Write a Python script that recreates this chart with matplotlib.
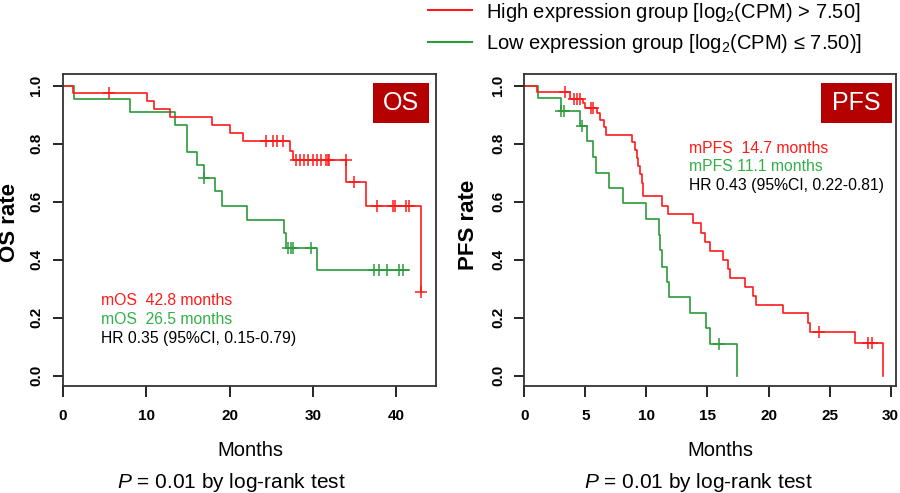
import numpy as np
import matplotlib
matplotlib.use("Agg")
import matplotlib.pyplot as plt
from matplotlib.patches import Rectangle
from matplotlib.lines import Line2D

plt.rcParams['font.family'] = ['Liberation Sans', 'DejaVu Sans']
plt.rcParams['mathtext.fontset'] = 'custom'
plt.rcParams['mathtext.rm'] = 'Liberation Sans'
plt.rcParams['mathtext.it'] = 'Liberation Sans:italic'

RED = '#ff1a1a'
GREEN = '#2a9a3a'
GREEN_TXT = '#33b04a'
BOX = '#b50000'

# OS, high expression (step times / survival, censor times)
os_hi_t = [0, 1.2, 10.1, 10.95, 12.9, 17.9, 20.1, 21.6, 27.2, 27.6, 34.0, 36.3, 42.9]
os_hi_s = [1.0, 0.974, 0.947, 0.92, 0.891, 0.863, 0.836, 0.808, 0.776, 0.744, 0.669, 0.585, 0.29]
os_hi_c = [5.6, 24.4, 25.2, 25.7, 26.4, 27.95, 28.45, 28.9, 29.45, 30.0, 30.5, 30.95,
           31.5, 31.75, 31.95, 33.95, 34.9, 37.7, 39.6, 39.85, 41.2, 41.45, 42.9]
# OS, low expression
os_lo_t = [0, 1.35, 8.05, 13.45, 14.9, 16.05, 16.9, 18.3, 19.05, 22.05, 26.5, 26.75, 30.5, 41.5]
os_lo_s = [1.0, 0.954, 0.91, 0.864, 0.772, 0.727, 0.683, 0.635, 0.585, 0.537, 0.491, 0.441, 0.364, 0.364]
os_lo_c = [16.9, 27.05, 27.3, 27.55, 29.7, 37.25, 37.95, 38.85, 40.35, 40.75]

# PFS, high expression
pfs_hi_t = [0, 1.05, 3.74, 4.8, 4.95, 5.93, 6.2, 6.5, 6.65, 8.8, 9.05, 9.2, 9.35, 9.5, 9.62, 9.75,
            11.3, 11.8, 13.84, 14.5, 14.78, 15.21, 16.3, 16.7, 16.85, 18.1, 18.7, 18.95,
            21.2, 23.22, 23.38, 27.08, 29.4]
pfs_hi_s = [1.0, 0.977, 0.953, 0.94, 0.922, 0.905, 0.882, 0.859, 0.83, 0.805, 0.778, 0.75, 0.722,
            0.694, 0.666, 0.62, 0.586, 0.557, 0.525, 0.493, 0.462, 0.431, 0.399, 0.368, 0.336,
            0.305, 0.274, 0.244, 0.215, 0.183, 0.152, 0.114, 0.0]
pfs_hi_c = [3.33, 4.1, 4.3, 4.55, 5.5, 5.65, 24.16, 28.17, 28.45]
# PFS, low expression
pfs_lo_t = [0, 1.1, 2.98, 4.56, 5.1, 5.65, 5.83, 6.96, 8.06, 10.0, 11.0, 11.1, 11.25, 11.7, 11.85,
            13.57, 14.88, 15.21, 17.39]
pfs_lo_s = [1.0, 0.957, 0.912, 0.862, 0.808, 0.754, 0.7, 0.648, 0.594, 0.539, 0.485, 0.433, 0.374,
            0.322, 0.27, 0.215, 0.163, 0.11, 0.0]
pfs_lo_c = [3.02, 3.25, 4.72, 15.93]


def surv_at(t, s, c):
    idx = np.searchsorted(t, c, side='right') - 1
    return np.array(s)[idx]


def km_panel(ax, hi, lo, xmax, xticks, tag, notes, note_xy):
    for (t, s, c), col in [(lo, GREEN), (hi, RED)]:
        ax.step(t, s, where='post', color=col, lw=1.2)
        ax.plot(c, surv_at(t, s, c), '+', color=col, ms=8, mew=1.1, ls='none')
    ax.set_xlim(0, xmax)
    ax.set_ylim(-0.035, 1.042)
    ax.set_xticks(xticks)
    ax.set_yticks([0, 0.2, 0.4, 0.6, 0.8, 1.0])
    ax.set_yticklabels(['0.0', '0.2', '0.4', '0.6', '0.8', '1.0'], rotation=90, va='center')
    ax.tick_params(axis='x', length=8, width=1.2, pad=9, labelsize=11)
    ax.tick_params(axis='y', length=7, width=1.2, pad=7, labelsize=11)
    for lab in ax.get_xticklabels() + ax.get_yticklabels():
        lab.set_fontweight('bold')
    for sp in ax.spines.values():
        sp.set_linewidth(1.3)
        sp.set_color('#333333')
    ax.add_patch(Rectangle((tag[1], 0.8405), tag[2] - tag[1], 0.13, transform=ax.transAxes,
                           facecolor=BOX, edgecolor='none', zorder=5))
    ax.text((tag[1] + tag[2]) / 2, 0.905, tag[0], transform=ax.transAxes, color='white',
            fontsize=18, ha='center', va='center', zorder=6)
    x0, ys = note_xy
    for txt, col, y in zip(notes, [RED, GREEN_TXT, 'black'], ys):
        ax.text(x0, y, txt, color=col, fontsize=11.3, ha='left', va='center')


fig = plt.figure(figsize=(9, 4.93), dpi=100)
ax1 = fig.add_axes([0.0697, 0.2176, 0.4144, 0.6333])
ax2 = fig.add_axes([0.5826, 0.2176, 0.4132, 0.6333])

km_panel(ax1, (os_hi_t, os_hi_s, os_hi_c), (os_lo_t, os_lo_s, os_lo_c), 44.7,
         [0, 10, 20, 30, 40], ('OS', 0.831, 0.982),
         ['mOS  42.8 months', 'mOS  26.5 months', 'HR 0.35 (95%CI, 0.15-0.79)'],
         (4.6, [0.259, 0.192, 0.129]))
km_panel(ax2, (pfs_hi_t, pfs_hi_s, pfs_hi_c), (pfs_lo_t, pfs_lo_s, pfs_lo_c), 30.46,
         [0, 5, 10, 15, 20, 25, 30], ('PFS', 0.798, 0.988),
         ['mPFS  14.7 months', 'mPFS 11.1 months', 'HR 0.43 (95%CI, 0.22-0.81)'],
         (13.5, [0.784, 0.721, 0.654]))

W, H = 900.0, 493.0
fig.text(10 / W, 1 - 223 / H, 'OS rate', rotation=90, fontsize=16, fontweight='bold',
         ha='center', va='center')
fig.text(468.5 / W, 1 - 225 / H, 'PFS rate', rotation=90, fontsize=16, fontweight='bold',
         ha='center', va='center')
for xc in [250.8, 720]:
    fig.text(xc / W, 1 - 450 / H, 'Months', fontsize=14.5, ha='center', va='center')
for xc in [231, 698]:
    fig.text(xc / W, 1 - 483 / H, r'$P$ = 0.01 by log-rank test', fontsize=15,
             ha='center', va='center')

# legend
for y, col, txt in [(10, RED, r'High expression group [log$_2$(CPM) > 7.50]'),
                    (41.7, GREEN, r'Low expression group [log$_2$(CPM) ≤ 7.50)]')]:
    fig.add_artist(Line2D([428 / W, 472 / W], [1 - y / H, 1 - y / H], color=col, lw=1.5,
                          transform=fig.transFigure))
    fig.text(486 / W, 1 - (y + 2) / H, txt, fontsize=14.5, ha='left', va='center')

fig.savefig('out.png', dpi=100)
